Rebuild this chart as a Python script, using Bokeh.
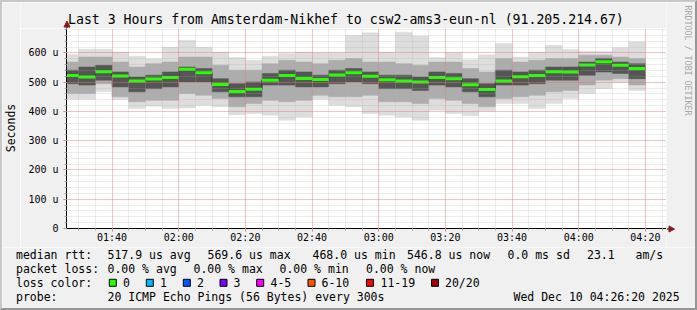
import math
from bokeh.plotting import figure
from bokeh.models import Range1d, FixedTicker, ColumnDataSource
from bokeh.layouts import column, row
from bokeh.embed import file_html
from bokeh.resources import INLINE
from bokeh.core.properties import value

FONT = "DejaVu Sans Mono"

# ---------------- data ----------------
bar_times = ["01:25", "01:30", "01:35", "01:40", "01:45", "01:50", "01:55",
             "02:00", "02:05", "02:10", "02:15", "02:20", "02:25", "02:30",
             "02:35", "02:40", "02:45", "02:50", "02:55",
             "03:00", "03:05", "03:10", "03:15", "03:20", "03:25", "03:30",
             "03:35", "03:40", "03:45", "03:50", "03:55",
             "04:00", "04:05", "04:10", "04:15"]
median = [523, 518, 536, 521, 504, 511, 516, 544, 532, 492,
          468, 476, 507, 523, 513, 509, 525, 532, 520, 508,
          504, 501, 516, 512, 491, 475, 504, 519, 523, 536,
          535, 559, 569.6, 558, 546.8]
ping_max = [595, 613, 613, 603, 589, 580, 620, 643, 620, 603,
            584, 575, 589, 598, 603, 601, 601, 660, 669, 603,
            671, 658, 584, 601, 577, 594, 632, 586, 603, 626,
            612, 606, 606, 618, 638]
ping_min = [442, 442, 467, 441, 410, 418, 410, 412, 421, 416,
            389, 393, 387, 370, 381, 442, 421, 416, 393, 387,
            381, 370, 404, 393, 385, 401, 427, 427, 410, 427,
            444, 461, 478, 499, 472]
mid_hi = [569, 586, 586, 569, 552, 563, 569, 586, 586, 558,
          541, 541, 563, 575, 569, 563, 575, 581, 569, 569,
          563, 558, 569, 569, 547, 535, 581, 569, 575, 581,
          581, 592, 592, 586, 581]
mid_lo = [461, 461, 495, 450, 433, 438, 438, 461, 455, 444,
          416, 427, 438, 433, 438, 455, 450, 450, 455, 433,
          433, 427, 444, 438, 427, 416, 444, 450, 455, 467,
          472, 490, 507, 512, 490]
dark_hi = [541, 552, 558, 535, 518, 524, 535, 552, 547, 512,
           495, 501, 530, 541, 535, 524, 541, 547, 535, 524,
           524, 518, 535, 530, 512, 495, 541, 535, 541, 552,
           552, 569, 581, 569, 563]
dark_lo = [495, 490, 507, 484, 467, 478, 484, 501, 501, 467,
           450, 450, 490, 490, 484, 484, 495, 501, 495, 478,
           478, 472, 490, 484, 467, 450, 490, 490, 495, 507,
           507, 524, 535, 530, 512]

x_tick_labels = ["01:40", "02:00", "02:20", "02:40", "03:00", "03:20", "03:40", "04:00", "04:20"]
y_tick_values = [0, 100, 200, 300, 400, 500, 600]
y_tick_labels = ["0", "100 u", "200 u", "300 u", "400 u", "500 u", "600 u"]

loss_labels = ["0", "1", "2", "3", "4-5", "6-10", "11-19", "20/20"]
loss_colors = ["#26ff00", "#00b8ff", "#0059ff", "#7e00ff", "#ff00ff", "#ff5500", "#ff0000", "#a10000"]

title = "Last 3 Hours from Amsterdam-Nikhef to csw2-ams3-eun-nl (91.205.214.67)"
y_label = "Seconds"
side_text = "RRDTOOL / TOBI OETIKER"
probe_text = "20 ICMP Echo Pings (56 Bytes) every 300s"
stamp_text = "Wed Dec 10 04:26:20 2025"
loss_pct = ["0.00", "0.00", "0.00", "0.00"]
sd_text = "0.0 ms sd"
ams_text = "23.1"

# ---------------- helpers ----------------
def to_min(s):
    h, m = s.split(":")
    return int(h) * 60 + int(m)

starts = [to_min(t) for t in bar_times]
ends = [s + 5 for s in starts]
X0 = to_min("01:26") + 20 / 60.0
X1 = X0 + 180
YMAX = 1.2 * max(median)

BG = "#f0f0f0"
ARROW = "#8b1a1a"


def pix_fig(x0, x1, y0, y1):
    """A figure whose data space equals the picture's pixel space."""
    f = figure(width=x1 - x0, height=y1 - y0, x_range=Range1d(x0, x1), y_range=Range1d(y1, y0),
               output_backend="svg", toolbar_location=None, x_axis_type=None, y_axis_type=None,
               min_border=0, background_fill_color=BG, border_fill_color=BG,
               outline_line_color=None)
    f.grid.visible = False
    f.frame_align = False
    return f


# ---------------- main plot ----------------
src = ColumnDataSource(dict(left=starts, right=ends, med=median,
                            pmin=ping_min, pmax=ping_max,
                            mlo=mid_lo, mhi=mid_hi, dlo=dark_lo, dhi=dark_hi))

p = figure(width=646, height=219, x_range=Range1d(X0, X1), y_range=Range1d(0, YMAX),
           output_backend="svg", toolbar_location=None,
           min_border_left=46, min_border_right=0, min_border_top=0, min_border_bottom=19,
           background_fill_color="white", border_fill_color=BG, outline_line_color=None)
p.frame_align = False

p.quad(left="left", right="right", bottom="pmin", top="pmax", source=src,
       fill_color="#dddddd", line_color="#dddddd", line_width=0.5)
p.quad(left="left", right="right", bottom="mlo", top="mhi", source=src,
       fill_color="#adadad", line_color="#adadad", line_width=0.5)
p.quad(left="left", right="right", bottom="dlo", top="dhi", source=src,
       fill_color="#555555", line_color="#555555", line_width=0.5)
p.step(x=starts + [ends[-1]], y=median + [median[-1]], mode="after",
       line_color="#202020", line_width=1)
p.segment(x0="left", y0="med", x1="right", y1="med", source=src,
          line_color="#26ff00", line_width=3)

major_x = [to_min(t) for t in x_tick_labels]
minor_x = [m for m in range(90, 266, 5)]
p.xaxis.ticker = FixedTicker(ticks=major_x, minor_ticks=minor_x)
p.xaxis.major_label_overrides = {m: t for m, t in zip(major_x, x_tick_labels)}
p.yaxis.ticker = FixedTicker(ticks=y_tick_values, minor_ticks=list(range(0, 684, 20)))
p.yaxis.major_label_overrides = {v: t for v, t in zip(y_tick_values, y_tick_labels)}
for ax in (p.xaxis[0], p.yaxis[0]):
    ax.axis_line_color = "black"
    ax.axis_line_width = 1
    ax.major_tick_line_color = "#ff5f5f"
    ax.major_tick_out = 3
    ax.major_tick_in = 0
    ax.minor_tick_line_color = "#ababab"
    ax.minor_tick_out = 2
    ax.minor_tick_in = 0
    ax.major_label_text_font = FONT
    ax.major_label_text_font_size = "10px"
    ax.major_label_text_color = "black"
p.xaxis.major_label_standoff = 0
p.yaxis.major_label_standoff = 5

for g in (p.xgrid[0], p.ygrid[0]):
    g.grid_line_color = "#ff5f5f"
    g.grid_line_alpha = 0.55
    g.grid_line_dash = "1 1"
    g.minor_grid_line_color = "#ababab"
    g.minor_grid_line_alpha = 0.45
    g.minor_grid_line_dash = "1 1"
    g.level = "annotation"

# ---------------- title strip (pixel space) ----------------
t = pix_fig(20, 666, 2, 28)
t.text(x=[67.5], y=[19.3], text=[title], text_font=value(FONT), text_font_size="13.2px",
       text_baseline="middle", text_align="left", text_color="black")
t.segment(x0=[66.5], y0=[28], x1=[66.5], y1=[25], line_color="black", line_width=1)
t.patch(x=[63.5, 69.5, 66.5], y=[26.5, 26.5, 20.5], fill_color=ARROW, line_color=ARROW)

# ---------------- left strip: y label ----------------
ls = pix_fig(2, 20, 2, 247)
ls.text(x=[10], y=[127.5], text=[y_label], angle=math.pi / 2, text_font=value(FONT),
        text_font_size="11.5px", text_baseline="middle", text_align="center", text_color="black")

# ---------------- right strip: side text and x arrow ----------------
rs = pix_fig(666, 695, 2, 247)
rs.text(x=[687.5], y=[5], text=[side_text], angle=-math.pi / 2, text_font=value(FONT),
        text_font_size="8.3px", text_baseline="middle", text_align="left", text_color="#a8a8a8")
rs.segment(x0=[666], y0=[228.5], x1=[669], y1=[228.5], line_color="black", line_width=1)
rs.patch(x=[668.5, 668.5, 674], y=[225.5, 231.5, 228.5], fill_color=ARROW, line_color=ARROW)

# ---------------- legend area ----------------
q = pix_fig(2, 695, 247, 308)

avg_v = sum(median) / len(median)
row1 = ["median rtt:", "%.1f us avg" % avg_v, "%.1f us max" % max(median),
        "%.1f us min" % min(median), "%.1f us now" % median[-1], sd_text, ams_text, "am/s"]
row1_x = [15.5, 107, 207, 312, 406.5, 507, 586.5, 635]
row2 = ["packet loss:", loss_pct[0] + " % avg", loss_pct[1] + " % max",
        loss_pct[2] + " % min", loss_pct[3] + " % now"]
row2_x = [15.5, 107, 193, 279, 365.5]
row3 = ["loss color:"] + loss_labels
row3_x = [15.5, 122.5, 159.5, 196.5, 233, 270, 321, 380, 444.5]
row4 = ["probe:", probe_text, stamp_text]
row4_x = [15.5, 107, 513]

tx, ty, tt = [], [], []
for rw, xs, yy in ((row1, row1_x, 254.3), (row2, row2_x, 268.3),
                   (row3, row3_x, 282.3), (row4, row4_x, 296)):
    for s, x in zip(rw, xs):
        tx.append(x); ty.append(yy); tt.append(s)
q.text(x=tx, y=ty, text=tt, text_font=value(FONT), text_font_size="11.5px",
       text_baseline="middle", text_align="left", text_color="black")

box_x = [112.3, 149.3, 186.3, 223, 259.7, 311, 369.5, 434.5]
q.rect(x=box_x, y=[282.3] * len(box_x), width=7, height=7,
       fill_color=loss_colors, line_color="black", line_width=1)

layout = column(row(ls, column(t, p, spacing=0), rs, spacing=0), q, spacing=0,
                styles={"border-style": "solid", "border-width": "2px",
                        "border-color": "#c8c8c8 #969696 #969696 #c8c8c8"})

open("out.html", "w").write(file_html(layout, INLINE))
